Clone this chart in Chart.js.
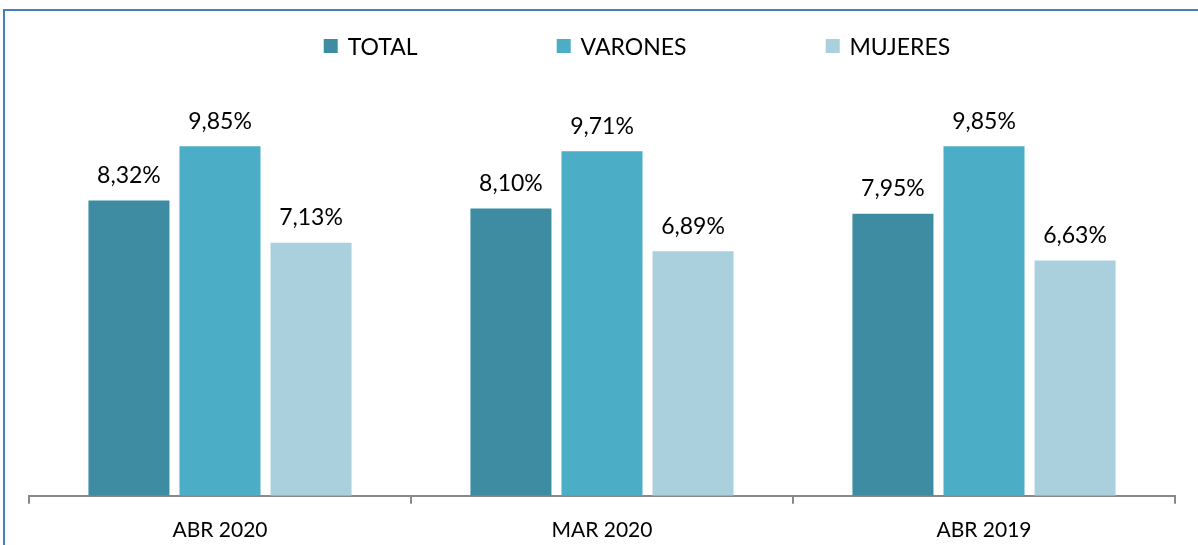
<!DOCTYPE html>
<html>
<head>
<meta charset="utf-8">
<script src="https://cdn.jsdelivr.net/npm/chart.js@4.4.1/dist/chart.umd.min.js"></script>
<style>
  body { margin: 0; background: #fff; overflow: hidden; }
  #wrap { position: relative; width: 1198px; height: 545px; overflow: hidden; }
  #frame { position: absolute; left: 3px; top: 9px; right: -10px; bottom: -10px;
           border-left: 2px solid #4A7EBB; border-top: 2px solid #4A7EBB; }
  #legend { position: absolute; top: 32px; left: 637px; transform: translateX(-50%);
            display: flex; gap: 139px; font-family: Lato, sans-serif; font-size: 23px; color: #000; white-space: nowrap; }
  .item { display: flex; align-items: center; }
  .box { width: 14px; height: 14px; margin-right: 10px; }
  canvas { position: absolute; left: 0; top: 0; }
</style>
</head>
<body>
<div id="wrap">
  <div id="frame"></div>
  <canvas id="myChart" width="1198" height="557"></canvas>
  <div id="legend"></div>
</div>

<script type="text/javascript">
  // periods on the x axis
  var categories = ['ABR 2020', 'MAR 2020', 'ABR 2019'];
  // unemployment rate, %
  var total   = [8.32, 8.10, 7.95];
  var varones = [9.85, 9.71, 9.85];
  var mujeres = [7.13, 6.89, 6.63];

  var seriesNames = ['TOTAL', 'VARONES', 'MUJERES'];
  var colors = ['#3D8CA2', '#4BADC6', '#AACFDD'];

  var data = {
    labels: categories,
    datasets: [
      { label: seriesNames[0], data: total,   backgroundColor: colors[0] },
      { label: seriesNames[1], data: varones, backgroundColor: colors[1] },
      { label: seriesNames[2], data: mujeres, backgroundColor: colors[2] }
    ]
  };

  // value labels above each bar, with a decimal comma
  var barLabels = {
    id: 'barLabels',
    afterDatasetsDraw: function (chart) {
      var ctx = chart.ctx;
      ctx.save();
      ctx.font = '23px Lato, sans-serif';
      ctx.fillStyle = '#000';
      ctx.textAlign = 'center';
      ctx.textBaseline = 'middle';
      chart.data.datasets.forEach(function (ds, i) {
        chart.getDatasetMeta(i).data.forEach(function (bar, j) {
          var txt = ds.data[j].toFixed(2).replace('.', ',') + '%';
          ctx.fillText(txt, bar.x, bar.y - 25);
        });
      });
      ctx.restore();
    }
  };

  var ctx = document.getElementById('myChart');
  var myChart = new Chart(ctx, {
    type: 'bar',
    data: data,
    plugins: [barLabels],
    options: {
      responsive: false,
      animation: false,
      devicePixelRatio: 1,
      categoryPercentage: 0.715,
      barPercentage: 0.89,
      layout: { padding: { left: 29, right: 23, top: 70, bottom: 0 } },
      plugins: {
        legend: { display: false },
        tooltip: { enabled: false }
      },
      scales: {
        x: {
          grid: { drawOnChartArea: false, drawTicks: true, tickLength: 8, color: '#898989', lineWidth: 2 },
          border: { color: '#898989', width: 2 },
          ticks: { color: '#000', padding: 14, font: { family: 'Lato, sans-serif', size: 21 } }
        },
        y: {
          display: false,
          min: 0,
          max: 12
        }
      }
    }
  });

  // legend drawn as html from the chart's datasets
  var legend = document.getElementById('legend');
  myChart.data.datasets.forEach(function (ds) {
    var item = document.createElement('div');
    item.className = 'item';
    var box = document.createElement('span');
    box.className = 'box';
    box.style.background = ds.backgroundColor;
    item.appendChild(box);
    item.appendChild(document.createTextNode(ds.label));
    legend.appendChild(item);
  });
</script>
</body>
</html>
